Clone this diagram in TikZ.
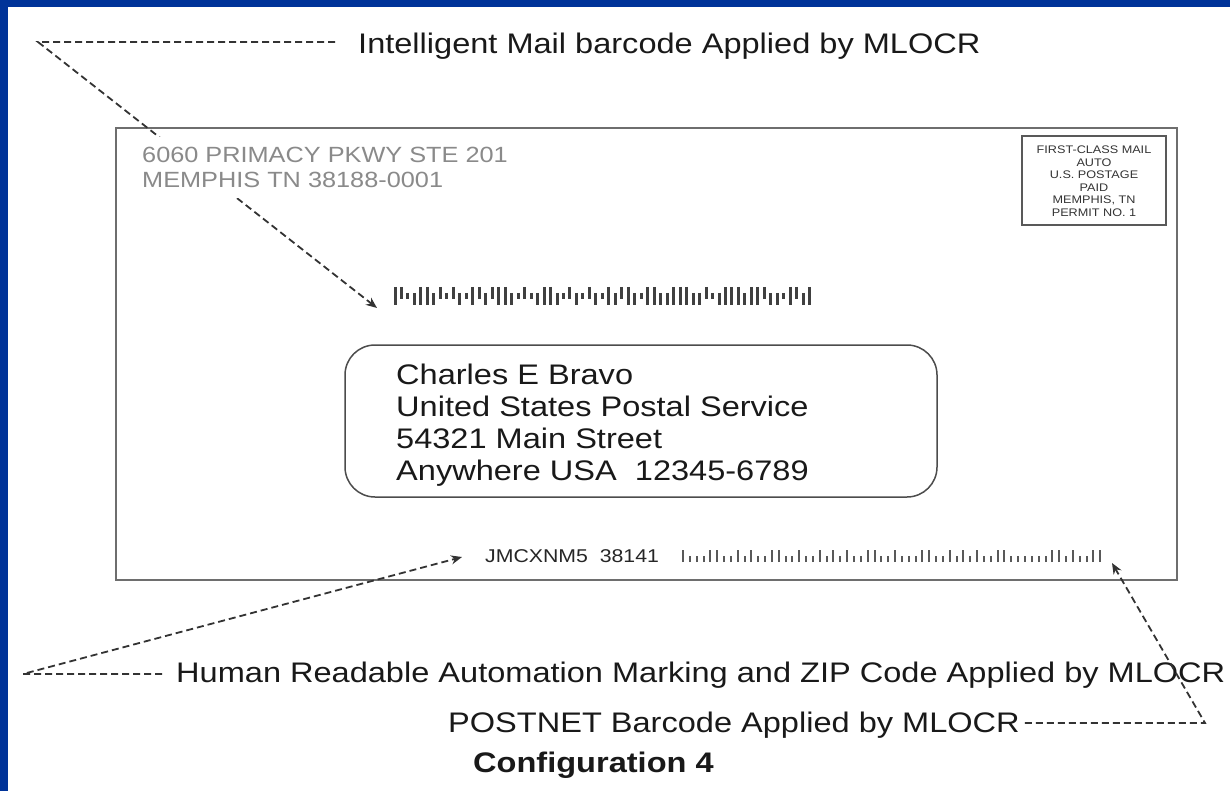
\documentclass[tikz,border=0pt]{standalone}
\usepackage{fontspec}
\setmainfont{Liberation Sans}[FakeStretch=1.15]
\usetikzlibrary{arrows.meta,positioning}
\definecolor{slideblue}{HTML}{003399}
\definecolor{framegray}{HTML}{6E6E6E}
\definecolor{retgray}{HTML}{8A8A8A}

\begin{document}
\begin{tikzpicture}[x=1pt, y=-1pt, every node/.style={inner sep=0pt},
    leader/.style={draw=black!80, line width=1.8pt, dash pattern=on 7pt off 4pt},
    tip/.style={-{Stealth[length=11pt, width=9pt]}},
    bigtext/.style={font={\fontsize{28.3}{32}\selectfont}, text=black!90},
    imbbar/.style={line width=3pt, draw=black!75},
    pnbar/.style={line width=2pt, draw=black!65}]
    \useasboundingbox (0,0) rectangle (1230,791);

    % Slide border
    \fill[slideblue] (0,0) rectangle (1230,7);
    \fill[slideblue] (0,0) rectangle (8,791);

    % Envelope
    \node[draw=framegray, line width=2pt, minimum width=1061pt, minimum height=452pt] (envelope) at (646.5,354) {};

    % Postage indicia
    \node[draw=black!65, line width=2pt, minimum width=144pt, minimum height=89pt] (indicia) at (1094,180.5) {};
    \node[align=center, font={\fontsize{11}{12.5}\selectfont}, text=black!80] (indiciatext) at (1094,181)
        {FIRST-CLASS MAIL\\AUTO\\U.S. POSTAGE\\PAID\\MEMPHIS, TN\\PERMIT NO. 1};

    % Delivery address
    \node[draw=black!70, line width=1.5pt, rounded corners=30pt, minimum width=592pt, minimum height=152pt] (addrbox) at (641,421) {};
    \node[bigtext, align=left, anchor=north west] (addr) at (396,364)
        {Charles E Bravo\\United States Postal Service\\54321 Main Street\\Anywhere USA\ \ 12345-6789};

    % Intelligent Mail barcode
    \foreach \t/\u [count=\i] in {1/1,1/0,0/0,0/1,1/1, 1/1,0/1,1/0,0/0,1/0, 0/1,0/0,1/1,1/0,0/1,
        1/0,1/1,1/1,0/1,0/0, 1/0,0/0,0/1,1/1,1/1, 0/1,0/0,1/0,0/1,0/0, 1/0,0/1,0/0,1/1,0/1,
        1/0,1/1,0/1,0/0,1/1, 1/1,0/1,0/1,1/1,1/1, 1/1,0/1,0/1,1/0,0/0, 0/1,1/1,1/1,1/1,0/1,
        1/1,1/1,1/0,0/1,0/1, 0/0,1/1,1/0,0/1,1/1}
        \draw[imbbar] ({395+(\i-1)*6.48},{293-6*\t}) -- ({395+(\i-1)*6.48},{299+6*\u});
    \coordinate (imbtip) at (377,308);

    % Human readable marking and POSTNET
    \node[anchor=base west, font={\fontsize{18.5}{20}\selectfont}, text=black!85] (marking) at (485,562) {JMCXNM5\ \ 38141};
    \foreach \h [count=\i] in {1, 0,0,0,1,1, 0,0,1,0,1, 0,0,1,1,0, 0,1,0,0,1, 0,1,0,1,0, 0,1,1,0,0,
        1,0,0,0,1, 1,0,0,1,0, 1,0,1,0,0, 1,1,0,0,0, 0,0,0,1,1, 0,1,0,0,1, 1}
        \draw[pnbar] ({683+(\i-1)*6.84},562) -- ({683+(\i-1)*6.84},{556-6*\h});
    \coordinate (hrtip) at (462,557);
    \coordinate (pntip) at (1112,563);

    % Labels
    \node[bigtext, anchor=base west] (imblabel) at (358,54) {Intelligent Mail barcode Applied by MLOCR};
    \node[bigtext, anchor=base west] (hrlabel) at (176,682) {Human Readable Automation Marking and ZIP Code Applied by MLOCR};
    \node[bigtext, anchor=base west] (pnlabel) at (448,732) {POSTNET Barcode Applied by MLOCR};
    \node[bigtext, anchor=base west, font={\fontsize{28.3}{32}\selectfont\bfseries}] (caption) at (473,772) {Configuration 4};

    % Leaders
    \coordinate (imbcorner) at (38,42);
    \coordinate (hrcorner) at (23,674);
    \coordinate (pncorner) at (1205,723);
    \draw[leader, tip, shorten <=23pt] (imbcorner -| imblabel.west) -- (imbcorner) -- (imbtip);
    \draw[leader, tip, shorten <=14pt] (hrcorner -| hrlabel.west) -- (hrcorner) -- (hrtip);
    \draw[leader, tip, shorten <=5pt] (pncorner -| pnlabel.east) -- (pncorner) -- (pntip);

    % Return address
    \node[fill=white, inner xsep=0pt, inner ysep=10pt, anchor=north west, align=left,
        font={\fontsize{22}{25}\selectfont}, text=retgray] (retaddr) at (142,137)
        {6060 PRIMACY PKWY STE 201\\MEMPHIS TN 38188-0001};

\end{tikzpicture}
\end{document}
